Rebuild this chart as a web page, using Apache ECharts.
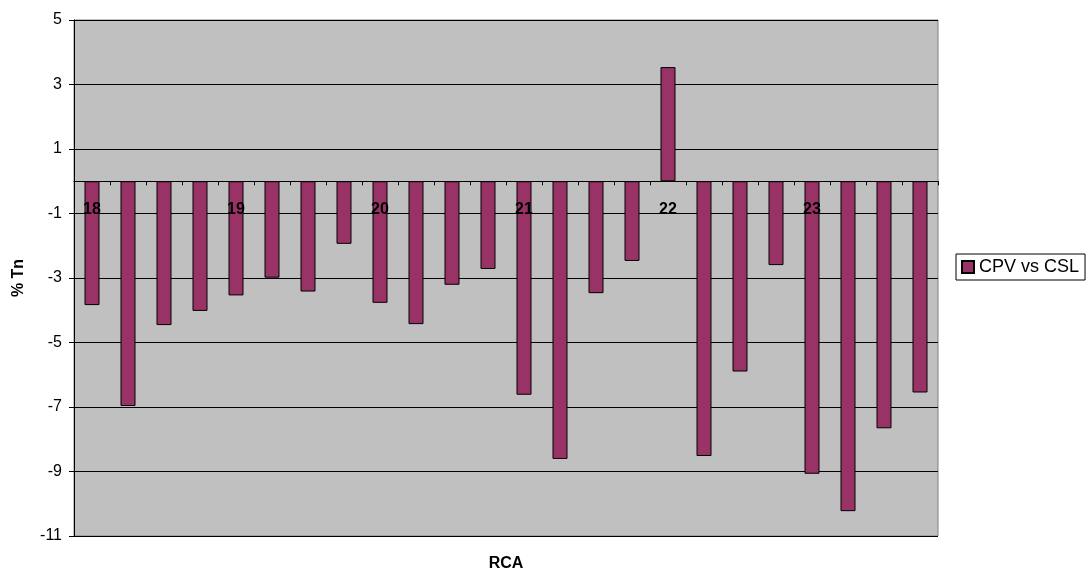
<!DOCTYPE html>
<html>
<head>
<meta charset="utf-8">
<script src="https://cdn.jsdelivr.net/npm/echarts@6/dist/echarts.min.js"></script>
<style>
html,body{margin:0;padding:0;background:#fff;}
#c{width:1088px;height:574px;}
</style>
</head>
<body>
<div id="c"></div>
<script>
var categories = ['18-1','18-2','18-3','18-4','19-1','19-2','19-3','19-4','20-1','20-2','20-3','20-4',
                  '21-1','21-2','21-3','21-4','22-1','22-2','22-3','22-4','23-1','23-2','23-3','23-4'];
var cpvVsCsl = [-3.84,-6.97,-4.46,-4.02,-3.54,-2.99,-3.42,-1.94,-3.77,-4.43,-3.21,-2.72,
                -6.62,-8.61,-3.47,-2.47,3.54,-8.52,-5.90,-2.60,-9.07,-10.23,-7.66,-6.55];
var seriesName = 'CPV vs CSL';
var yMin = -11, yMax = 5, yStep = 2;

var FONT = "'Liberation Sans', Arial, sans-serif";
var chart = echarts.init(document.getElementById('c'), null, {renderer: 'canvas'});
chart.setOption({
  animation: false,
  backgroundColor: '#ffffff',
  textStyle: {fontFamily: FONT},
  grid: {
    left: 74, right: 150, top: 20, bottom: 38,
    containLabel: false,
    outerBoundsMode: 'none',
    show: true, backgroundColor: '#c0c0c0', borderColor: '#808080', borderWidth: 1
  },
  legend: {
    show: true,
    left: 956, top: 254,
    orient: 'vertical',
    backgroundColor: '#ffffff',
    borderColor: '#000000', borderWidth: 1, borderRadius: 0,
    padding: [4, 6, 4, 5],
    itemWidth: 12, itemHeight: 12,
    icon: 'rect',
    textStyle: {fontFamily: FONT, fontSize: 18, color: '#000'},
    data: [seriesName]
  },
  xAxis: {
    type: 'category',
    z: 5,
    data: categories,
    boundaryGap: true,
    name: 'RCA',
    nameLocation: 'middle',
    nameGap: 20,
    nameTextStyle: {fontFamily: FONT, fontSize: 16, fontWeight: 'bold', color: '#000'},
    axisLine: {onZero: true, lineStyle: {color: '#000', width: 1}},
    axisTick: {show: true, interval: 0, length: 4, lineStyle: {color: '#000'}},
    axisLabel: {
      interval: 3,
      margin: -334,
      fontFamily: FONT, fontSize: 16, fontWeight: 'bold', color: '#000',
      formatter: function (v) { return v.split('-')[0]; }
    },
    splitLine: {show: false}
  },
  yAxis: {
    type: 'value',
    min: yMin, max: yMax, interval: yStep,
    name: '% Tn',
    nameLocation: 'middle',
    nameGap: 47,
    nameRotate: 90,
    nameTextStyle: {fontFamily: FONT, fontSize: 16, fontWeight: 'bold', color: '#000'},
    axisLine: {show: true, lineStyle: {color: '#000', width: 1}},
    axisTick: {show: true, length: 5, lineStyle: {color: '#000'}},
    axisLabel: {margin: 12, fontFamily: FONT, fontSize: 16, color: '#000'},
    splitLine: {show: true, lineStyle: {color: '#000', width: 1}}
  },
  series: [{
    name: seriesName,
    type: 'bar',
    data: cpvVsCsl,
    barWidth: 15,
    itemStyle: {color: '#993366', borderColor: '#000000', borderWidth: 1}
  }]
});
</script>
</body>
</html>
